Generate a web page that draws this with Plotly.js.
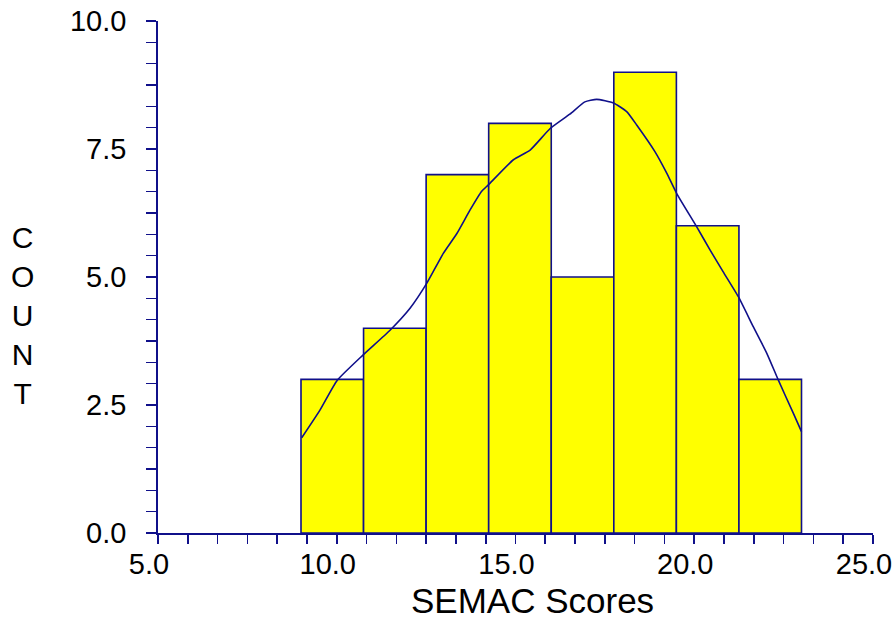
<!DOCTYPE html>
<html>
<head>
<meta charset="utf-8">
<script src="https://cdn.plot.ly/plotly-3.0.1.min.js"></script>
<style>html,body{margin:0;padding:0;background:#fff;}#chart{width:895px;height:619px;}</style>
</head>
<body>
<div id="chart"></div>
<script>
// Histogram bins (left edges), common bin width and counts
const binLeft = [9.0, 10.75, 12.5, 14.25, 16.0, 17.75, 19.5, 21.25];
const binWidth = 1.75;
const counts = [3, 4, 7, 8, 5, 9, 6, 3];

// Smoothed density curve
const curveX = [9.02, 9.53, 10.01, 10.74, 11.49, 12.05, 12.52, 12.98, 13.36, 13.73, 14.05, 14.24,
                14.94, 15.41, 15.97, 16.52, 16.94, 17.27, 17.74, 18.11, 18.39, 18.90, 19.23, 19.51,
                20.07, 20.44, 20.81, 21.23, 21.65, 22.03, 22.35, 22.77, 23.00];
const curveY = [1.86, 2.40, 2.98, 3.48, 3.96, 4.39, 4.88, 5.46, 5.85, 6.31, 6.67, 6.80,
                7.29, 7.48, 7.90, 8.18, 8.42, 8.47, 8.40, 8.23, 7.97, 7.45, 7.03, 6.63,
                5.98, 5.53, 5.10, 4.62, 4.03, 3.51, 2.99, 2.34, 1.98];

const xTickVals = [5, 10, 15, 20, 25];
const xTickText = ["5.0", "10.0", "15.0", "20.0", "25.0"];
const yTickVals = [0, 2.5, 5, 7.5, 10];
const yTickText = ["0.0", "2.5", "5.0", "7.5", "10.0"];

const navy = "#10108a";
const font = "Liberation Sans, Arial, sans-serif";

const bars = {
  type: "bar",
  x: binLeft.map(v => v + binWidth / 2),
  y: counts,
  width: binLeft.map(() => binWidth),
  marker: {color: "#ffff00", line: {color: navy, width: 1.6}},
  hoverinfo: "skip"
};
const curve = {
  type: "scatter",
  mode: "lines",
  x: curveX,
  y: curveY,
  line: {color: navy, width: 1.6, shape: "spline", smoothing: 0.5},
  hoverinfo: "skip"
};
// empty helper trace so the label-only axis is drawn
const labelAxisHelper = {
  type: "scatter",
  mode: "markers",
  x: xTickVals,
  y: xTickVals.map(() => null),
  xaxis: "x2",
  yaxis: "y",
  marker: {opacity: 0},
  hoverinfo: "skip"
};

const layout = {
  width: 895, height: 619,
  margin: {l: 158, r: 22, t: 21, b: 86},
  paper_bgcolor: "#ffffff",
  plot_bgcolor: "#ffffff",
  showlegend: false,
  font: {family: font, color: "#000000"},
  xaxis: {
    range: [5, 25],
    tickmode: "array", tickvals: xTickVals, ticktext: xTickText,
    showticklabels: false,
    ticks: "outside", ticklen: 9, tickwidth: 1.6, tickcolor: navy,
    minor: {dtick: 5 / 6, tick0: 5, ticks: "outside", ticklen: 9, tickwidth: 1.6, tickcolor: navy},
    showline: true, linecolor: navy, linewidth: 1.8,
    showgrid: false, zeroline: false
  },
  // label-only overlay axis so the tick labels sit at the reference distance
  xaxis2: {
    overlaying: "x", anchor: "y", side: "bottom",
    range: [5, 25],
    tickmode: "array", tickvals: xTickVals, ticktext: xTickText,
    ticks: "", ticklen: 0,
    ticklabelshift: -9, ticklabelstandoff: 11,
    showline: false, showgrid: false, zeroline: false,
    tickfont: {family: font, size: 29, color: "#000000"}
  },
  yaxis: {
    range: [0, 10],
    tickmode: "array", tickvals: yTickVals, ticktext: yTickText,
    ticks: "outside", ticklen: 10, tickwidth: 1.6, tickcolor: navy,
    ticklabelstandoff: 14,
    minor: {dtick: 2.5 / 6, tick0: 0, ticks: "outside", ticklen: 10, tickwidth: 1.6, tickcolor: navy},
    showline: true, linecolor: navy, linewidth: 1.8,
    showgrid: false, zeroline: false,
    tickfont: {family: font, size: 29, color: "#000000"}
  },
  annotations: [
    {
      text: "SEMAC Scores", xref: "paper", yref: "paper",
      x: (532 - 158) / 715, y: (533 - 600) / 512,
      xanchor: "center", yanchor: "middle", showarrow: false,
      font: {family: font, size: 35, color: "#000000"}
    },
    {
      text: "C<br>O<br>U<br>N<br>T", xref: "paper", yref: "paper",
      x: (22 - 158) / 715, y: (533 - 315) / 512,
      xanchor: "center", yanchor: "middle", showarrow: false,
      font: {family: font, size: 30, color: "#000000"}
    }
  ]
};

Plotly.newPlot("chart", [bars, curve, labelAxisHelper], layout, {staticPlot: true, displayModeBar: false});
</script>
</body>
</html>
